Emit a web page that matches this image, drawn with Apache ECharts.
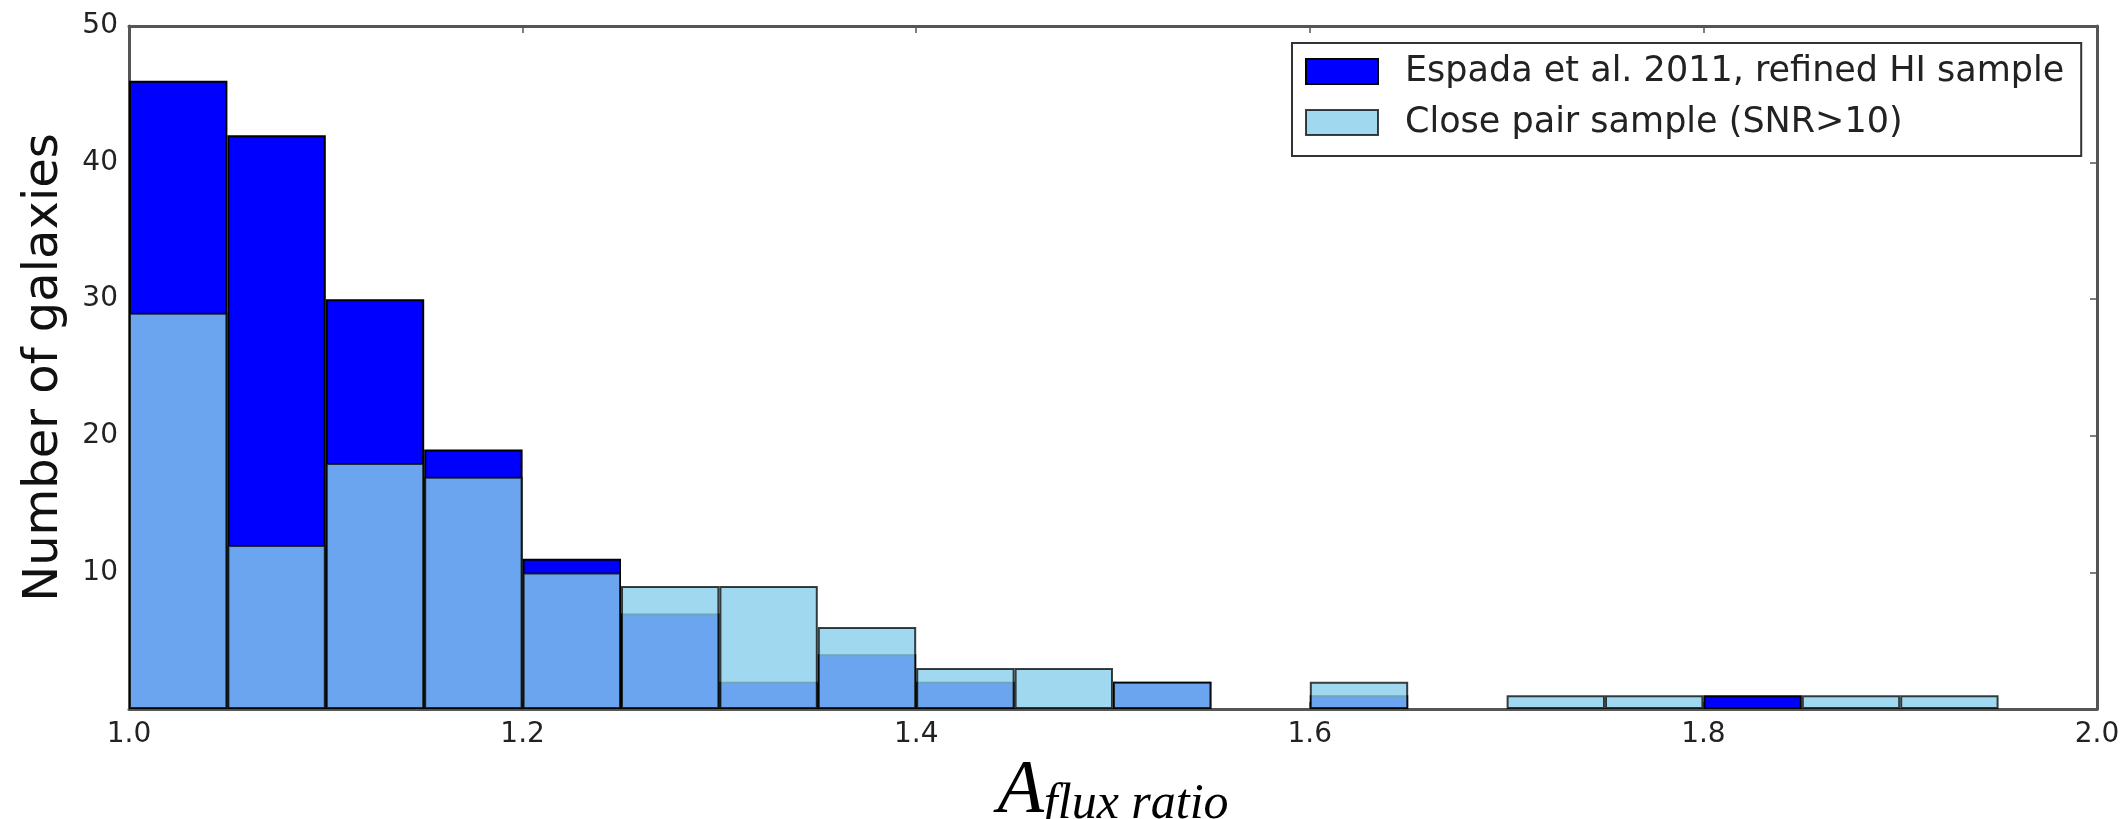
<!DOCTYPE html>
<html>
<head>
<meta charset="utf-8">
<script src="https://cdn.jsdelivr.net/npm/echarts@6/dist/echarts.min.js"></script>
<style>
  html, body { margin: 0; padding: 0; background: #fff; }
  #chart { width: 2126px; height: 819px; }
</style>
</head>
<body>
<div id="chart"></div>
<script>
// Histogram bins of width 0.05 between 1.0 and 2.0
const binStarts = [1.00, 1.05, 1.10, 1.15, 1.20, 1.25, 1.30, 1.35, 1.40, 1.45,
                   1.50, 1.55, 1.60, 1.65, 1.70, 1.75, 1.80, 1.85, 1.90, 1.95];
// Counts per bin
const espadaCounts    = [46, 42, 30, 19, 11, 7, 2, 4, 2, 0, 2, 0, 1, 0, 0, 0, 1, 0, 0, 0];
const closePairCounts = [29, 12, 18, 17, 10, 9, 9, 6, 3, 3, 2, 0, 2, 0, 1, 1, 0, 1, 1, 0];
const seriesNames = ['Espada et al. 2011, refined HI sample', 'Close pair sample (SNR>10)'];
// Axis ranges
const xRange = { min: 1.0, max: 2.0, step: 0.2 };
const yRange = { min: 0, max: 50, step: 10 };

const categories = binStarts.map(b => b.toFixed(2));
const toBars = arr => arr.map(v => (v === 0 ? '-' : v));

const frameColor = '#555';
const tickStyle = { show: true, inside: true, length: 7, lineStyle: { color: frameColor, width: 1.5 } };
const lineStyle = { show: true, lineStyle: { color: frameColor, width: 3 } };

const chart = echarts.init(document.getElementById('chart'), null, { renderer: 'canvas' });
chart.setOption({
  backgroundColor: '#fff',
  animation: false,
  grid: { left: 129, right: 29, top: 26, bottom: 110, containLabel: false, outerBoundsMode: 'none' },
  legend: {
    data: seriesNames,
    orient: 'vertical',
    left: 1292,
    top: 43,
    padding: [11, 17, 16, 13],
    itemWidth: 72,
    itemHeight: 25,
    itemGap: 16,
    borderColor: '#333',
    borderWidth: 2,
    backgroundColor: '#fff',
    selectedMode: false,
    icon: 'rect',
    textStyle: {
      fontFamily: 'DejaVu Sans',
      fontSize: 35,
      color: '#222',
      padding: [0, 0, 0, 22]
    }
  },
  xAxis: [
    {
      type: 'category',
      data: categories,
      gridIndex: 0,
      boundaryGap: true,
      show: false
    },
    {
      type: 'value',
      gridIndex: 0,
      position: 'bottom',
      min: xRange.min,
      max: xRange.max,
      interval: xRange.step,
      axisLine: lineStyle,
      axisTick: tickStyle,
      splitLine: { show: false },
      axisLabel: {
        margin: 12,
        fontFamily: 'DejaVu Sans',
        fontSize: 28,
        color: '#222',
        formatter: v => v.toFixed(1)
      },
      name: '{a|A}{s|flux ratio}',
      nameLocation: 'middle',
      nameGap: 37,
      nameTextStyle: {
        rich: {
          a: { fontFamily: 'Liberation Serif', fontStyle: 'italic', fontSize: 76, color: '#000', verticalAlign: 'bottom' },
          s: { fontFamily: 'Liberation Serif', fontStyle: 'italic', fontSize: 50, color: '#000', verticalAlign: 'bottom' }
        }
      }
    },
    {
      type: 'value',
      gridIndex: 0,
      position: 'top',
      min: xRange.min,
      max: xRange.max,
      interval: xRange.step,
      axisLine: lineStyle,
      axisTick: tickStyle,
      axisLabel: { show: false },
      splitLine: { show: false }
    }
  ],
  yAxis: [
    {
      type: 'value',
      position: 'left',
      min: yRange.min,
      max: yRange.max,
      interval: yRange.step,
      axisLine: lineStyle,
      axisTick: tickStyle,
      splitLine: { show: false },
      axisLabel: {
        margin: 11,
        fontFamily: 'DejaVu Sans',
        fontSize: 28,
        color: '#222',
        formatter: v => (v === 0 ? '' : String(v))
      },
      name: 'Number of galaxies',
      nameLocation: 'middle',
      nameRotate: 90,
      nameGap: 60,
      nameTextStyle: { fontFamily: 'DejaVu Sans', fontSize: 48, color: '#111' }
    },
    {
      type: 'value',
      position: 'right',
      min: yRange.min,
      max: yRange.max,
      interval: yRange.step,
      axisLine: lineStyle,
      axisTick: tickStyle,
      axisLabel: { show: false },
      splitLine: { show: false }
    }
  ],
  series: [
    {
      name: seriesNames[0],
      type: 'bar',
      xAxisIndex: 0,
      yAxisIndex: 0,
      data: toBars(espadaCounts),
      barWidth: '100%',
      barGap: '-100%',
      itemStyle: { color: '#0000ff', borderColor: '#000', borderWidth: 2 }
    },
    {
      name: seriesNames[1],
      type: 'bar',
      xAxisIndex: 0,
      yAxisIndex: 0,
      data: toBars(closePairCounts),
      barWidth: '100%',
      barGap: '-100%',
      itemStyle: { color: 'rgba(135,206,235,0.8)', borderColor: 'rgba(0,0,0,0.75)', borderWidth: 2 }
    }
  ]
});
</script>
</body>
</html>
